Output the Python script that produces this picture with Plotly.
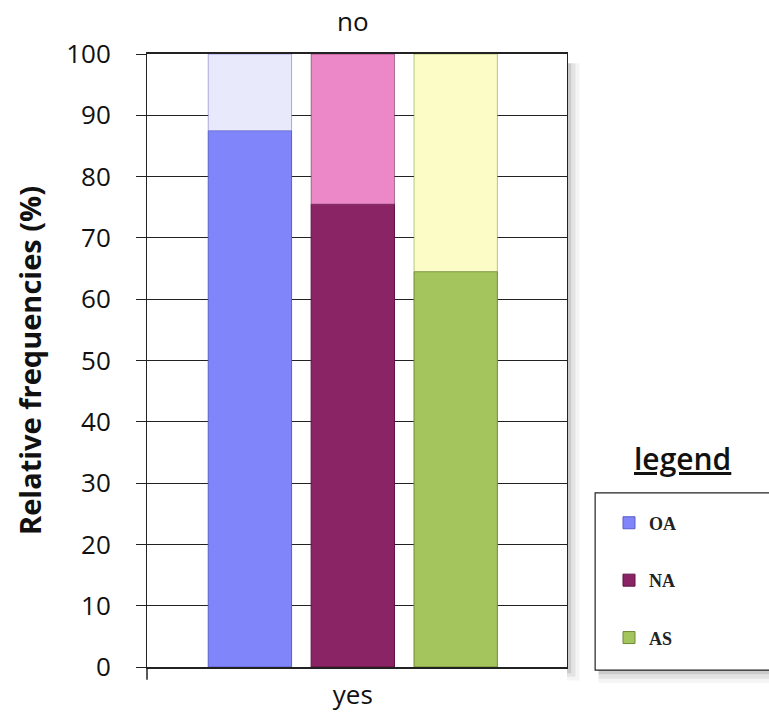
import plotly.graph_objects as go

categories = ["yes"]
series = ["OA", "NA", "AS"]
yes_values = [87.5, 75.5, 64.5]
no_values = [12.5, 24.5, 35.5]
yes_colors = ["#8185fa", "#8a2465", "#a4c55d"]
no_colors = ["#e9e9fc", "#ec88c8", "#fcfcc6"]
edge_colors = ["#5a5ec8", "#5e1244", "#6f8a35"]
y_ticks = [0, 10, 20, 30, 40, 50, 60, 70, 80, 90, 100]

fig = go.Figure()
for i, s in enumerate(series):
    fig.add_trace(go.Bar(
        x=categories, y=[yes_values[i]], name="<b>" + s + "</b>", offsetgroup=s, legendgroup=s,
        marker=dict(color=yes_colors[i], line=dict(color=edge_colors[i], width=1)),
        showlegend=True,
    ))
for i, s in enumerate(series):
    fig.add_trace(go.Bar(
        x=categories, y=[no_values[i]], base=[yes_values[i]], name=s + " no",
        offsetgroup=s, legendgroup=s,
        marker=dict(color=no_colors[i], line=dict(color=edge_colors[i], width=0.5)),
        showlegend=False,
    ))

# decorative shadows (plot frame and legend box)
for k, a in enumerate([0.10, 0.07, 0.04]):
    fig.add_shape(type="rect", xref="paper", yref="paper", x0=1.0, x1=1.01 + 0.01 * k,
                  y0=-0.01 - 0.006 * k, y1=0.985, fillcolor="rgba(0,0,0,%.2f)" % a,
                  line=dict(width=0), layer="below")
    fig.add_shape(type="rect", xref="paper", yref="paper", x0=1.075, x1=1.6,
                  y0=-0.012 - 0.007 * k, y1=-0.005, fillcolor="rgba(0,0,0,%.2f)" % a,
                  line=dict(width=0), layer="below")
# legend frame
fig.add_shape(type="rect", xref="paper", yref="paper", x0=1.067, x1=1.62, y0=-0.005, y1=0.284,
              fillcolor="white", line=dict(color="#222", width=1.2), layer="below")
# left axis extension below zero
fig.add_shape(type="line", xref="paper", yref="paper", x0=0, x1=0, y0=0, y1=-0.021,
              line=dict(color="#222", width=1.5))

fig.add_annotation(x=categories[0], y=100, xref="x", yref="y", text="no", showarrow=False,
                   yshift=33, font=dict(family="Open Sans", size=26, color="#111"))
fig.add_annotation(x=1.276, y=0.34, xref="paper", yref="paper", xanchor="center", yanchor="middle",
                   text="<u>legend</u>", showarrow=False,
                   font=dict(family="Open Sans", size=30, color="#111", weight=600))

fig.update_layout(
    width=769, height=713,
    margin=dict(l=147, r=202, t=54, b=46),
    plot_bgcolor="white", paper_bgcolor="white",
    barmode="group", bargap=0.265, bargroupgap=0.19,
    showlegend=True,
    legend=dict(
        x=1.1, y=0.265, xanchor="left", yanchor="top",
        borderwidth=0, bgcolor="rgba(0,0,0,0)",
        font=dict(family="Liberation Serif", size=18, color="#222"),
        tracegroupgap=31, itemwidth=30,
    ),
    xaxis=dict(
        range=[-0.49, 0.51], showline=True, linecolor="#222", linewidth=1.5, mirror=True,
        ticks="", tickfont=dict(family="Open Sans", size=26, color="#111"), showgrid=False,
        ticklabelstandoff=4, automargin=False,
    ),
    yaxis=dict(
        range=[0, 100], tickvals=y_ticks, showline=True, linecolor="#222", linewidth=1,
        mirror=True, ticks="outside", ticklen=10, tickcolor="#222",
        showgrid=True, gridcolor="#222", gridwidth=1,
        tickfont=dict(family="Open Sans", size=26, color="#111"),
        ticklabelstandoff=20, automargin=False,
        title=dict(text="<b>Relative frequencies (%)</b>", standoff=16,
                   font=dict(family="Open Sans", size=29, color="#111")),
    ),
)

fig.write_html("out.html")
